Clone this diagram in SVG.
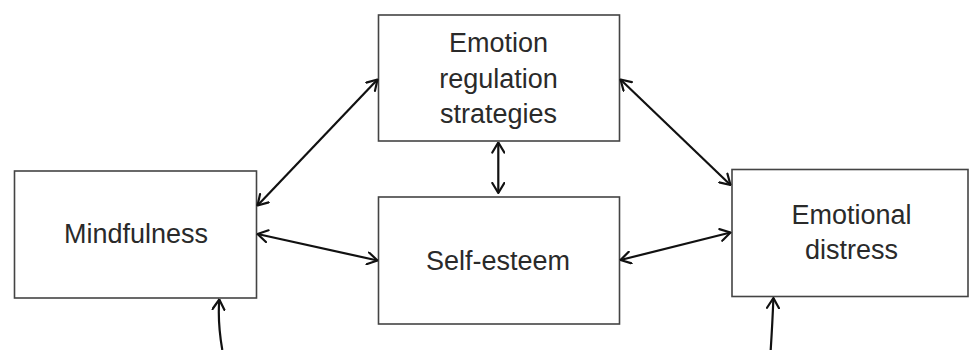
<svg xmlns="http://www.w3.org/2000/svg" width="970" height="350" viewBox="0 0 970 350">
<style>
.box{fill:#fff;stroke:#444;stroke-width:1.6}
.lbl{font-family:"Liberation Sans",Arial,sans-serif;font-size:27px;fill:#2a2a2a;text-anchor:middle}
.con{fill:none;stroke:#111;stroke-width:2.2;marker-start:url(#ah);marker-end:url(#ah)}
.one{fill:none;stroke:#111;stroke-width:2.2;marker-end:url(#ah)}
</style>
<defs>
<marker id="ah" viewBox="0 0 12 14" refX="11" refY="7" markerWidth="12" markerHeight="14" markerUnits="userSpaceOnUse" orient="auto-start-reverse">
<path d="M1,1 L11,7 L1,13" fill="none" stroke="#111" stroke-width="2.2" stroke-linecap="round" stroke-linejoin="round"/>
</marker>
</defs>
<rect width="970" height="350" fill="#fff"/>
<g id="mindfulness">
<rect class="box" x="14.5" y="171" width="242" height="127"/>
<text class="lbl" x="136" y="243">Mindfulness</text>
</g>
<g id="emotion-regulation">
<rect class="box" x="378.5" y="15" width="241" height="126"/>
<text class="lbl" x="498.5" y="52">Emotion</text>
<text class="lbl" x="498.5" y="87.5">regulation</text>
<text class="lbl" x="498.5" y="123">strategies</text>
</g>
<g id="self-esteem">
<rect class="box" x="378.5" y="197" width="241" height="127"/>
<text class="lbl" x="498" y="269.5">Self-esteem</text>
</g>
<g id="emotional-distress">
<rect class="box" x="732" y="169.5" width="236" height="127"/>
<text class="lbl" x="851.5" y="223.5">Emotional</text>
<text class="lbl" x="851.5" y="259">distress</text>
</g>
<g id="connectors">
<line class="con" x1="257.5" y1="205.5" x2="377.5" y2="79.5"/>
<line class="con" x1="620.5" y1="79.5" x2="730.5" y2="185"/>
<line class="con" x1="498.3" y1="142.5" x2="498.3" y2="193"/>
<line class="con" x1="257.5" y1="234" x2="377.5" y2="260.5"/>
<line class="con" x1="620.5" y1="260" x2="730.5" y2="232.5"/>
<path class="one" d="M222.3,350 Q217.5,322 219.3,299.5"/>
<path class="one" d="M770.7,350 Q772.5,322 773.4,298"/>
</g>
</svg>
